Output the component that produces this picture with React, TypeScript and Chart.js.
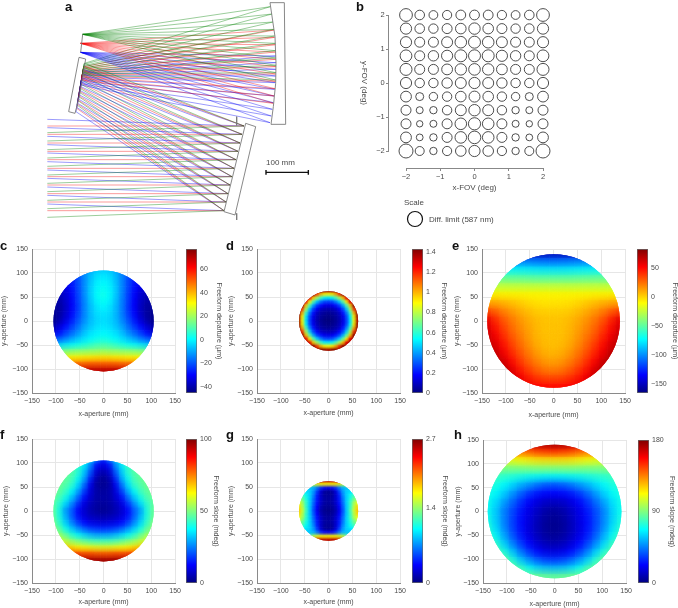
import React, { useEffect, useRef } from "react";
import { Chart, registerables } from "chart.js";
Chart.register(...registerables);

const FONT = "'Liberation Sans', Arial, sans-serif";
const INK = "#4a4a4a";

// ---------- panel a: ray trace, in units of a 840 x 660 drawing space ----------
const m3X = [612, 606, 600, 594, 588, 582, 576, 570, 564, 558, 552];
const m3Y = [378, 403, 429, 454, 479, 505, 530, 555, 581, 606, 632];
const entryBlue = [358, 383, 409, 434, 459, 485, 510, 535, 561, 586, 612];
const entryRed = [378, 403, 429, 454, 479, 505, 530, 555, 581, 606, 632];
const entryGreen = [398, 423, 449, 474, 499, 525, 550, 575, 601, 626, 652];
const m2XGreen = [133, 131, 129, 127, 125, 122, 120, 118, 116, 114, 111];
const m2YGreen = [190, 202, 215, 227, 240, 252, 265, 277, 290, 302, 315];
const m2XRed = [132, 129, 127, 125, 123, 121, 119, 116, 114, 112, 110];
const m2YRed = [198, 211, 224, 236, 249, 262, 274, 287, 300, 312, 325];
const m2XBlue = [130, 128, 126, 123, 121, 119, 117, 115, 112, 110, 108];
const m2YBlue = [208, 221, 233, 246, 259, 271, 284, 297, 309, 322, 335];
const exitXGreen = [127, 127, 128, 129, 129, 130, 131, 131, 132, 132, 133];
const exitYGreen = [225, 221, 218, 214, 211, 207, 204, 200, 197, 193, 190];
const exitXRed = [124, 125, 125, 126, 127, 128, 129, 129, 130, 131, 131];
const exitYRed = [240, 236, 232, 228, 224, 220, 216, 212, 208, 204, 200];
const exitXBlue = [122, 123, 123, 124, 125, 125, 126, 127, 127, 128, 129];
const exitYBlue = [255, 251, 247, 243, 239, 235, 231, 227, 223, 219, 215];
const m1XGreen = [707, 708, 708, 708, 707, 706, 704, 702, 699, 696, 691];
const m1YGreen = [240, 218, 196, 174, 152, 130, 108, 88, 66, 42, 20];
const m1XRed = [700, 702, 705, 706, 707, 708, 708, 707, 706, 704, 702];
const m1YRed = [310, 288, 266, 244, 222, 200, 178, 156, 134, 112, 90];
const m1XBlue = [690, 694, 697, 700, 702, 704, 706, 707, 708, 708, 708];
const m1YBlue = [368, 348, 328, 308, 288, 268, 248, 228, 208, 188, 168];
const mirrorOutlines = [
  [[617, 370], [647, 380], [585, 645], [552, 635], [617, 370]],
  [[590, 350], [590, 376]],
  [[590, 640], [590, 660]],
  [[690, 8], [733, 8], [737, 373], [693, 373], [700, 320], [707, 250], [708, 190], [705, 110], [690, 8]],
  [[117, 172], [137, 177], [128, 230], [118, 290], [105, 340], [86, 335], [117, 172]],
  [[128, 103], [122, 157]],
];
const scaleBar = [[678, 510], [678, 524], [678, 517], [805, 517], [805, 510], [805, 524]];

// ---------- panel b: spot radii, y = 2 (top) to y = -2 (bottom) ----------
const fovAxis = [-2, -1.6, -1.2, -0.8, -0.4, 0, 0.4, 0.8, 1.2, 1.6, 2];
const spotRadii = [
  [6.4, 4.8, 4.4, 4.6, 4.9, 4.9, 4.9, 4.6, 4.4, 4.8, 6.4],
  [5.6, 4.8, 4.7, 5.0, 5.3, 5.7, 5.3, 5.0, 4.7, 4.8, 5.6],
  [5.6, 5.0, 5.0, 5.5, 5.8, 6.0, 5.8, 5.5, 5.0, 5.0, 5.6],
  [5.9, 5.0, 5.2, 5.6, 6.0, 6.0, 6.0, 5.6, 5.2, 5.0, 5.9],
  [6.0, 5.0, 5.0, 5.4, 5.7, 5.8, 5.7, 5.4, 5.0, 5.0, 6.0],
  [5.6, 4.7, 4.7, 5.2, 5.5, 5.6, 5.5, 5.2, 4.7, 4.7, 5.6],
  [5.4, 4.0, 4.2, 4.7, 5.3, 5.5, 5.3, 4.7, 4.2, 4.0, 5.4],
  [5.0, 3.5, 3.7, 4.7, 5.5, 5.7, 5.5, 4.7, 3.7, 3.5, 5.0],
  [5.0, 3.2, 3.5, 5.0, 5.8, 6.1, 5.8, 5.0, 3.5, 3.2, 5.0],
  [5.4, 3.4, 3.7, 5.0, 5.8, 6.3, 5.8, 5.0, 3.7, 3.4, 5.4],
  [7.0, 4.5, 3.7, 4.6, 5.3, 5.6, 5.3, 4.6, 3.7, 4.5, 7.0],
];
const diffractionLimitRadius = 7.5;

// ---------- panels c-h: surface values read per row, top to bottom, from the
// left rim to the centre column (the surfaces are left-right symmetric) ----------
const departureC = [
  [-28, -28, -26, -24, -20, -14, -9, -6, -5],
  [-30, -30, -28, -26, -20, -13, -7, -3, -2],
  [-33, -33, -31, -27, -21, -13, -6, -1, 0],
  [-36, -36, -33, -28, -21, -13, -5, 0, 2],
  [-38, -38, -35, -29, -22, -13, -5, 1, 3],
  [-40, -40, -36, -30, -22, -14, -6, 0, 2],
  [-42, -41, -37, -30, -23, -14, -7, -2, 0],
  [-43, -41, -36, -29, -22, -14, -7, -3, -2],
  [-44, -40, -34, -27, -20, -13, -7, -4, -3],
  [-41, -35, -29, -23, -17, -10, -6, -3, -2],
  [-36, -29, -23, -18, -13, -7, -3, -1, 0],
  [-24, -20, -16, -11, -7, -3, 0, 2, 3],
  [-6, -4, -2, 0, 2, 4, 6, 8, 9],
  [14, 14, 15, 16, 17, 17, 18, 18, 19],
  [32, 32, 32, 32, 32, 33, 33, 34, 34],
  [48, 48, 48, 49, 49, 49, 50, 50, 50],
  [68, 68, 68, 68, 69, 69, 70, 70, 70],
];
const departureD = [
  [1.43, 1.43, 1.43, 1.43, 1.43, 1.43, 1.43, 1.41, 1.38],
  [1.43, 1.43, 1.43, 1.43, 1.41, 1.17, 1.0, 0.91, 0.88],
  [1.43, 1.43, 1.43, 1.27, 0.97, 0.76, 0.62, 0.52, 0.5],
  [1.43, 1.43, 1.27, 0.91, 0.65, 0.46, 0.35, 0.28, 0.27],
  [1.43, 1.41, 0.97, 0.65, 0.41, 0.27, 0.2, 0.15, 0.14],
  [1.43, 1.17, 0.76, 0.46, 0.27, 0.17, 0.1, 0.08, 0.07],
  [1.43, 1.0, 0.62, 0.35, 0.2, 0.1, 0.06, 0.04, 0.03],
  [1.41, 0.91, 0.52, 0.28, 0.15, 0.08, 0.04, 0.02, 0.01],
  [1.38, 0.88, 0.5, 0.27, 0.14, 0.07, 0.03, 0.01, 0],
  [1.41, 0.91, 0.52, 0.28, 0.15, 0.08, 0.04, 0.02, 0.01],
  [1.43, 1.0, 0.62, 0.35, 0.2, 0.1, 0.06, 0.04, 0.03],
  [1.43, 1.17, 0.76, 0.46, 0.27, 0.17, 0.1, 0.08, 0.07],
  [1.43, 1.41, 0.97, 0.65, 0.41, 0.27, 0.2, 0.15, 0.14],
  [1.43, 1.43, 1.27, 0.91, 0.65, 0.46, 0.35, 0.28, 0.27],
  [1.43, 1.43, 1.43, 1.27, 0.97, 0.76, 0.62, 0.52, 0.5],
  [1.43, 1.43, 1.43, 1.43, 1.41, 1.17, 1.0, 0.91, 0.88],
  [1.43, 1.43, 1.43, 1.43, 1.43, 1.43, 1.43, 1.41, 1.38],
];
const departureE = [
  [-140, -140, -140, -145, -148, -150, -152, -153, -153],
  [-100, -100, -100, -102, -104, -106, -108, -109, -110],
  [-72, -72, -73, -74, -75, -76, -77, -78, -78],
  [-48, -48, -49, -50, -50, -51, -52, -52, -52],
  [-26, -26, -26, -26, -26, -26, -26, -26, -26],
  [-8, -8, -8, -8, -8, -8, -8, -8, -8],
  [12, 10, 8, 5, 2, -1, -3, -4, -4],
  [35, 28, 20, 14, 9, 5, 2, 1, 1],
  [58, 42, 30, 22, 15, 10, 6, 4, 4],
  [62, 48, 36, 26, 18, 12, 7, 4, 4],
  [66, 54, 42, 30, 22, 14, 8, 5, 5],
  [70, 60, 48, 36, 26, 17, 10, 6, 5],
  [74, 66, 54, 42, 31, 22, 14, 9, 7],
  [78, 72, 62, 50, 38, 28, 20, 14, 12],
  [80, 78, 70, 58, 46, 36, 28, 22, 20],
  [80, 78, 76, 65, 54, 45, 38, 33, 32],
  [80, 78, 76, 70, 62, 56, 52, 50, 50],
];
const slopeF = [
  [52, 52, 50, 46, 42, 38, 32, 24, 15],
  [52, 52, 50, 46, 42, 36, 26, 13, 9],
  [52, 50, 48, 46, 42, 33, 21, 8, 5],
  [50, 49, 47, 45, 39, 30, 16, 5, 2],
  [50, 48, 46, 43, 35, 24, 11, 3, 2],
  [49, 47, 44, 38, 30, 19, 9, 4, 3],
  [48, 45, 40, 33, 24, 14, 8, 4, 4],
  [47, 42, 35, 27, 18, 10, 6, 4, 3],
  [48, 40, 28, 22, 13, 8, 5, 3, 2],
  [48, 40, 30, 22, 14, 9, 6, 5, 4],
  [50, 42, 33, 25, 18, 13, 10, 9, 8],
  [52, 46, 39, 32, 26, 21, 18, 17, 16],
  [56, 52, 47, 41, 37, 33, 30, 28, 28],
  [64, 60, 56, 52, 49, 46, 44, 43, 43],
  [72, 70, 68, 65, 63, 62, 61, 60, 60],
  [85, 84, 83, 82, 81, 80, 80, 79, 79],
  [98, 98, 98, 98, 98, 97, 97, 97, 97],
];
const slopeG = [
  [1.9, 1.9, 2.0, 2.2, 2.4, 2.5, 2.55, 2.55, 2.55],
  [1.0, 1.0, 1.1, 1.3, 1.5, 1.6, 1.7, 1.7, 1.7],
  [0.9, 0.9, 0.85, 0.85, 0.8, 0.65, 0.45, 0.35, 0.3],
  [1.1, 1.0, 0.95, 0.9, 0.75, 0.5, 0.22, 0.08, 0.05],
  [1.3, 1.2, 1.05, 0.9, 0.7, 0.42, 0.2, 0.08, 0.07],
  [1.5, 1.3, 1.1, 0.9, 0.65, 0.4, 0.2, 0.1, 0.08],
  [1.65, 1.45, 1.15, 0.9, 0.62, 0.38, 0.2, 0.1, 0.08],
  [1.8, 1.5, 1.15, 0.88, 0.58, 0.33, 0.15, 0.07, 0.05],
  [1.85, 1.55, 1.2, 0.88, 0.55, 0.3, 0.12, 0.05, 0.03],
  [1.8, 1.5, 1.15, 0.88, 0.58, 0.33, 0.15, 0.07, 0.05],
  [1.65, 1.45, 1.15, 0.9, 0.62, 0.38, 0.2, 0.1, 0.08],
  [1.5, 1.3, 1.1, 0.9, 0.65, 0.4, 0.2, 0.1, 0.08],
  [1.3, 1.2, 1.05, 0.9, 0.7, 0.42, 0.2, 0.08, 0.07],
  [1.1, 1.0, 0.95, 0.9, 0.75, 0.5, 0.22, 0.08, 0.05],
  [0.9, 0.9, 0.85, 0.85, 0.8, 0.65, 0.45, 0.35, 0.3],
  [1.0, 1.0, 1.1, 1.3, 1.5, 1.6, 1.7, 1.7, 1.7],
  [1.9, 1.9, 2.0, 2.2, 2.4, 2.5, 2.55, 2.55, 2.55],
];
const slopeH = [
  [150, 150, 152, 155, 160, 165, 170, 174, 175],
  [125, 125, 128, 132, 138, 143, 148, 150, 152],
  [105, 105, 107, 110, 113, 115, 117, 118, 118],
  [90, 90, 90, 91, 91, 92, 93, 93, 93],
  [78, 78, 76, 74, 72, 70, 69, 68, 68],
  [74, 73, 68, 62, 55, 50, 44, 40, 38],
  [72, 68, 60, 50, 41, 33, 27, 24, 23],
  [71, 63, 52, 42, 32, 24, 18, 14, 13],
  [70, 60, 46, 36, 27, 19, 13, 8, 6],
  [72, 60, 46, 35, 25, 18, 11, 6, 4],
  [75, 62, 47, 35, 25, 17, 10, 5, 3],
  [80, 67, 52, 38, 27, 18, 11, 6, 4],
  [85, 75, 60, 45, 33, 23, 15, 10, 8],
  [92, 85, 72, 58, 43, 32, 24, 18, 16],
  [95, 95, 87, 73, 58, 47, 38, 33, 31],
  [95, 95, 93, 88, 78, 68, 60, 56, 55],
  [98, 98, 97, 95, 93, 90, 88, 87, 86],
];
const apertureTicks = [-150, -100, -50, 0, 50, 100, 150];
const barTicksC = [-40, -20, 0, 20, 40, 60];
const barTicksD = [0, 0.2, 0.4, 0.6, 0.8, 1, 1.2, 1.4];
const barTicksE = [-150, -100, -50, 0, 50];
const barTicksF = [0, 50, 100];
const barTicksG = [0, 1.4, 2.7];
const barTicksH = [0, 90, 180];

const panels = [
  { id: "c", rows: departureC, radius: 105, min: -45, max: 77, ticks: barTicksC, title: "Freeform departure (µm)", L: 32, T: 249, h: 144, yw: 32, xh: 25, barL: 186, barW: 26 },
  { id: "d", rows: departureD, radius: 62, min: 0, max: 1.43, ticks: barTicksD, title: "Freeform departure (µm)", L: 257, T: 249, h: 144, yw: 30, xh: 24, barL: 412, barW: 25 },
  { id: "e", rows: departureE, radius: 139, min: -165, max: 83, ticks: barTicksE, title: "Freeform departure (µm)", L: 482, T: 249, h: 144, yw: 29, xh: 26, barL: 637, barW: 31 },
  { id: "f", rows: slopeF, radius: 105, min: 0, max: 100, ticks: barTicksF, title: "Freeform slope (mdeg)", L: 32, T: 439, h: 144, yw: 30, xh: 23, barL: 186, barW: 23 },
  { id: "g", rows: slopeG, radius: 62, min: 0, max: 2.7, ticks: barTicksG, title: "Freeform slope (mdeg)", L: 257, T: 439, h: 144, yw: 30, xh: 23, barL: 412, barW: 26 },
  { id: "h", rows: slopeH, radius: 140, min: 0, max: 180, ticks: barTicksH, title: "Freeform slope (mdeg)", L: 483, T: 440, h: 143, yw: 29, xh: 25, barL: 638, barW: 27 },
];

const panelLetters = [
  ["a", 65, 0], ["b", 356, 0], ["c", 0, 239], ["d", 226, 239], ["e", 452, 239],
  ["f", 0, 428], ["g", 226, 428], ["h", 454, 428],
];

const JET = [
  [0, 0, 0, 127], [0.125, 0, 0, 255], [0.375, 0, 255, 255],
  [0.625, 255, 255, 0], [0.875, 255, 0, 0], [1, 127, 0, 0],
];
function jet(t: number) {
  const u = Math.max(0, Math.min(1, t));
  for (let i = 1; i < JET.length; i++) {
    if (u <= JET[i][0]) {
      const a = JET[i - 1], b = JET[i];
      const k = (u - a[0]) / (b[0] - a[0]);
      return `rgb(${[1, 2, 3].map((c) => Math.round(a[c] + (b[c] - a[c]) * k)).join(",")})`;
    }
  }
  return "rgb(127,0,0)";
}
const minus = (v: any) => String(v).replace("-", "\u2212");
const font = (size: number) => ({ family: FONT, size });

// Clips the surface to its circular aperture, softening the upper layer of cells.
const discPlugin = {
  id: "disc",
  beforeDatasetsDraw(chart: any, _a: any, o: any) {
    const { x, y } = chart.scales;
    const ctx = chart.ctx;
    ctx.save();
    ctx.beginPath();
    ctx.ellipse(x.getPixelForValue(0), y.getPixelForValue(0),
      Math.abs(x.getPixelForValue(o.radius) - x.getPixelForValue(0)),
      Math.abs(y.getPixelForValue(o.radius) - y.getPixelForValue(0)), 0, 0, Math.PI * 2);
    ctx.clip();
  },
  beforeDatasetDraw(chart: any, args: any, o: any) {
    if (args.index === 0) chart.ctx.filter = `blur(${o.blur}px)`;
  },
  afterDatasetDraw(chart: any) {
    chart.ctx.filter = "none";
  },
  afterDatasetsDraw(chart: any) {
    chart.ctx.restore();
  },
};

function rayDataset(color: string, entry: number[], m2x: number[], m2y: number[], ex: number[], ey: number[], m1x: number[], m1y: number[], tip: number[], i: number) {
  return {
    data: [
      { x: 22, y: entry[i] },
      { x: m3X[i], y: m3Y[i] },
      { x: m2x[i], y: m2y[i] },
      { x: ex[i], y: ey[i] },
      { x: m1x[i], y: m1y[i] },
      { x: tip[0], y: tip[1] },
    ],
    showLine: true, pointRadius: 0, borderColor: color, borderWidth: 0.95,
  };
}

function makeRayChart(cv: HTMLCanvasElement) {
  const datasets: any[] = [];
  mirrorOutlines.forEach((o) =>
    datasets.push({ data: o.map(([x, y]) => ({ x, y })), showLine: true, pointRadius: 0, borderColor: "#7a7a7a", borderWidth: 0.9 }));
  m3X.forEach((_, i) => {
    datasets.push(rayDataset("rgba(0,130,0,0.42)", entryGreen, m2XGreen, m2YGreen, exitXGreen, exitYGreen, m1XGreen, m1YGreen, [128, 103], i));
    datasets.push(rayDataset("rgba(245,0,0,0.42)", entryRed, m2XRed, m2YRed, exitXRed, exitYRed, m1XRed, m1YRed, [122, 130], i));
    datasets.push(rayDataset("rgba(0,0,245,0.42)", entryBlue, m2XBlue, m2YBlue, exitXBlue, exitYBlue, m1XBlue, m1YBlue, [122, 157], i));
  });
  datasets.push({ data: scaleBar.map(([x, y]) => ({ x, y })), showLine: true, pointRadius: 0, borderColor: "#111", borderWidth: 1.4 });
  return new Chart(cv, {
    type: "scatter",
    data: { datasets },
    options: {
      animation: false, responsive: false, events: [],
      layout: { padding: 0 },
      plugins: { legend: { display: false }, tooltip: { enabled: false } },
      scales: {
        x: { display: false, min: 0, max: 840 },
        y: { display: false, min: 0, max: 660, reverse: true },
      },
    } as any,
  });
}

function makeSpotChart(cv: HTMLCanvasElement) {
  const data: any[] = [];
  spotRadii.forEach((row, j) => row.forEach((r, i) => data.push({ x: fovAxis[i], y: fovAxis[10 - j], r })));
  const axis = (title: string, extra: any) => ({
    min: -2, max: 2,
    grid: { display: true, drawOnChartArea: false, drawTicks: true, tickLength: 2, color: "#888" },
    border: { display: true, color: "#888", width: 1 },
    ticks: { stepSize: 1, font: font(7.5), color: INK, padding: 2, callback: minus, maxRotation: 0 },
    title: { display: true, text: title, font: font(8), color: INK, padding: 0 },
    ...extra,
  });
  return new Chart(cv, {
    type: "bubble",
    data: { datasets: [{ data, backgroundColor: "rgba(0,0,0,0)", borderColor: "#3a3a3a", borderWidth: 0.9, clip: false } as any] },
    options: {
      animation: false, responsive: false, events: [],
      layout: { padding: { left: 61, right: 35, top: 15, bottom: 44 } },
      plugins: { legend: { display: false }, tooltip: { enabled: false } },
      scales: {
        x: axis("x-FOV (deg)", { position: { y: -2.5 }, afterFit: (s: any) => { s.height = 25; } }),
        y: axis("y-FOV (deg)", {
          position: { x: -2.5 },
          afterFit: (s: any) => { s.width = 29; },
          ticks: { stepSize: 1, font: font(7.5), color: INK, callback: (v: any) => minus(v) + "\u00a0\u00a0" },
        }),
      },
    } as any,
  });
}

function makeScaleCircle(cv: HTMLCanvasElement) {
  return new Chart(cv, {
    type: "bubble",
    data: { datasets: [{ data: [{ x: 0, y: 0, r: diffractionLimitRadius }], backgroundColor: "#fff", borderColor: "#111", borderWidth: 1.2, clip: false } as any] },
    options: {
      animation: false, responsive: false, events: [],
      layout: { padding: 0 },
      plugins: { legend: { display: false }, tooltip: { enabled: false } },
      scales: { x: { display: false, min: -1, max: 1 }, y: { display: false, min: -1, max: 1 } },
    } as any,
  });
}

function makeSurfaceChart(cv: HTMLCanvasElement, p: any) {
  const step = p.radius / 8;
  const cellPx = (step * p.h) / 300;
  const points: any[] = [];
  const colors: string[] = [];
  p.rows.forEach((half: number[], j: number) => {
    const row = [...half, ...half.slice(0, -1).reverse()];
    row.forEach((v, i) => {
      points.push({ x: (i - 8) * step, y: (8 - j) * step });
      colors.push(jet((v - p.min) / (p.max - p.min)));
    });
  });
  const layer = (scale: number) => ({
    data: points, pointStyle: "rect", pointBackgroundColor: colors, pointBorderWidth: 0,
    pointRadius: (cellPx * scale) / 2 / Math.SQRT1_2, showLine: false,
  });
  const axis = (title: string, extra: any) => ({
    min: -150, max: 150,
    afterBuildTicks: (s: any) => { s.ticks = apertureTicks.map((value) => ({ value })); },
    grid: { color: "#e6e6e6", drawTicks: false, lineWidth: 1 },
    border: { color: "#8a8a8a", width: 1 },
    ticks: { font: font(7), color: INK, padding: 4, callback: minus, maxRotation: 0, autoSkip: false },
    title: { display: true, text: title, font: font(7), color: INK, padding: 0 },
    ...extra,
  });
  return new Chart(cv, {
    type: "scatter",
    data: { datasets: [layer(1.3), layer(1.04)] as any },
    options: {
      animation: false, responsive: false, events: [],
      layout: { padding: { top: 9, right: 9, left: 0, bottom: 0 } },
      plugins: {
        legend: { display: false }, tooltip: { enabled: false },
        disc: { radius: p.radius, blur: cellPx * 0.5 },
      },
      scales: {
        x: axis("x-aperture (mm)", { afterFit: (s: any) => { s.height = p.xh; } }),
        y: axis("y-aperture (mm)", { afterFit: (s: any) => { s.width = p.yw; } }),
      },
    } as any,
    plugins: [discPlugin],
  });
}

function makeColorBar(cv: HTMLCanvasElement, p: any) {
  return new Chart(cv, {
    type: "bar",
    data: {
      labels: [p.title],
      datasets: [{
        data: [[p.min, p.max]],
        borderColor: "#6a6a6a", borderWidth: 1, borderSkipped: false,
        barPercentage: 1, categoryPercentage: 1,
        backgroundColor: (c: any) => {
          const a = c.chart.chartArea;
          if (!a) return "#000";
          const g = c.chart.ctx.createLinearGradient(0, a.bottom, 0, a.top);
          JET.forEach((s) => g.addColorStop(s[0], `rgb(${s[1]},${s[2]},${s[3]})`));
          return g;
        },
      }] as any,
    },
    options: {
      animation: false, responsive: false, events: [],
      layout: { padding: { top: 9, bottom: 9, left: 1, right: 0 } },
      plugins: { legend: { display: false }, tooltip: { enabled: false } },
      scales: {
        x: { display: false },
        y: {
          position: "right", min: p.min, max: p.max,
          afterBuildTicks: (s: any) => { s.ticks = p.ticks.map((value: number) => ({ value })); },
          afterFit: (s: any) => { s.width = p.barW; },
          grid: { display: false, drawTicks: false }, border: { display: false },
          ticks: { font: font(7), color: INK, padding: 3, callback: minus, autoSkip: false },
          title: { display: true, text: p.title, font: font(7), color: INK, padding: 0 },
        },
      },
    } as any,
  });
}

const abs = (left: number, top: number): React.CSSProperties => ({ position: "absolute", left, top, display: "block" });
const label = (left: number, top: number, size: number, extra: any = {}): React.CSSProperties => ({
  position: "absolute", left, top, fontFamily: FONT, fontSize: size, lineHeight: 1, whiteSpace: "nowrap", ...extra,
});

export default function App() {
  const host = useRef<HTMLDivElement>(null);
  useEffect(() => {
    const q = (n: string) => host.current!.querySelector(`canvas[data-n="${n}"]`) as HTMLCanvasElement;
    const charts: Chart[] = [makeRayChart(q("rays")), makeSpotChart(q("spots")), makeScaleCircle(q("scale"))];
    panels.forEach((p) => {
      charts.push(makeSurfaceChart(q(p.id), p));
      charts.push(makeColorBar(q(p.id + "bar"), p));
    });
    return () => charts.forEach((c) => c.destroy());
  }, []);
  return (
    <div ref={host} style={{ position: "absolute", left: 0, top: 0, width: 678, height: 608, background: "#fff", overflow: "hidden" }}>
      <canvas data-n="rays" width={280} height={220} style={abs(40, 0)} />
      <canvas data-n="spots" width={233} height={195} style={abs(345, 0)} />
      <canvas data-n="scale" width={24} height={24} style={abs(403, 207)} />
      {panels.map((p) => (
        <React.Fragment key={p.id}>
          <canvas data-n={p.id} width={p.yw + 144 + 9} height={9 + p.h + p.xh} style={abs(p.L - p.yw, p.T - 9)} />
          <canvas data-n={p.id + "bar"} width={1 + 11 + p.barW} height={9 + p.h + 9} style={abs(p.barL - 1, p.T - 9)} />
        </React.Fragment>
      ))}
      {panelLetters.map(([t, x, y]) => (
        <div key={t as string} style={label(x as number, y as number, 13, { fontWeight: 700, color: "#111" })}>{t}</div>
      ))}
      <div style={label(266, 159, 8, { color: INK })}>100 mm</div>
      <div style={label(404, 199, 8, { color: INK })}>Scale</div>
      <div style={label(429, 216, 8, { color: INK })}>Diff. limit (587 nm)</div>
    </div>
  );
}
